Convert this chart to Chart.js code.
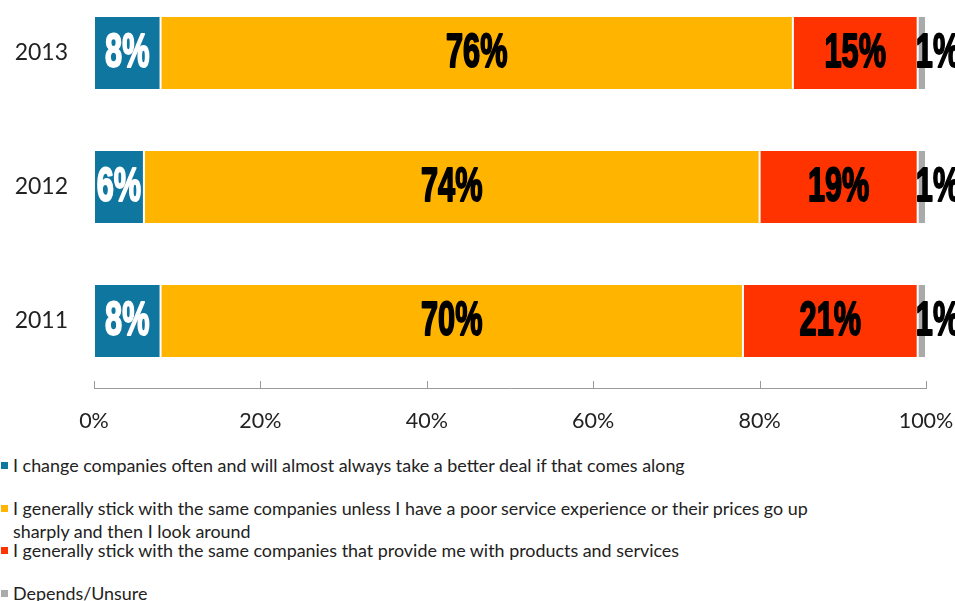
<!DOCTYPE html>
<html>
<head>
<meta charset="utf-8">
<script src="https://cdn.jsdelivr.net/npm/chart.js@4/dist/chart.umd.min.js"></script>
<style>
  body { margin: 0; background: #fff; }
  #wrap { position: relative; width: 955px; height: 601px; overflow: hidden; }
  #holder { position: absolute; left: 0; top: -14px; width: 955px; height: 460px; }
  #legend { position: absolute; left: 0; top: 0; width: 955px; }
  .item { position: absolute; left: 0; font: 17.9px Lato, "Open Sans", sans-serif; color: #222; line-height: 23px; white-space: nowrap; }
  .item span.box { position: absolute; left: 1px; top: 8px; width: 7px; height: 7px; }
  .item div { margin-left: 13px; }
</style>
</head>
<body>
<div id="wrap">
  <div id="holder"><canvas id="loyalty-chart" width="955" height="460"></canvas></div>
  <div id="legend"></div>
</div>
<script>
var years = ['2013', '2012', '2011'];
var changeOften = [8, 6, 8];
var stickUnlessPoor = [76, 74, 70];
var stickAlways = [15, 19, 21];
var unsure = [1, 1, 1];
var seriesNames = [
  ['I change companies often and will almost always take a better deal if that comes along'],
  ['I generally stick with the same companies unless I have a poor service experience or their prices go up', 'sharply and then I look around'],
  ['I generally stick with the same companies that provide me with products and services'],
  ['Depends/Unsure']
];
var xTicks = [0, 20, 40, 60, 80, 100];
var colors = ['#0f76a0', '#ffb400', '#ff3300', '#aaaaaa'];
var labelColors = ['#ffffff', '#000000', '#000000', '#000000'];

// value labels in a narrow heavy face, centred on each segment
var barLabels = {
  id: 'barLabels',
  afterDatasetsDraw: function(chart) {
    var ctx = chart.ctx;
    chart.data.datasets.forEach(function(ds, di) {
      var meta = chart.getDatasetMeta(di);
      meta.data.forEach(function(bar, i) {
        var cx = (bar.x + bar.base) / 2;
        if (di === 3) cx = bar.x + 12;
        ctx.save();
        ctx.translate(cx, bar.y + 1);
        ctx.scale(0.64, 1);
        ctx.font = 'bold 48px "Liberation Sans", Arial, sans-serif';
        ctx.textAlign = 'center';
        ctx.textBaseline = 'middle';
        ctx.fillStyle = labelColors[di];
        ctx.strokeStyle = labelColors[di];
        ctx.lineWidth = 2;
        ctx.lineJoin = 'round';
        ctx.strokeText(ds.data[i] + '%', 0, 0);
        ctx.fillText(ds.data[i] + '%', 0, 0);
        ctx.restore();
      });
    });
  }
};

// small tick marks standing up from the bottom axis line
var upTicks = {
  id: 'upTicks',
  afterDraw: function(chart) {
    var ctx = chart.ctx;
    var x = chart.scales.x;
    ctx.save();
    ctx.strokeStyle = '#9a9a9a';
    ctx.lineWidth = 1;
    xTicks.forEach(function(v) {
      var px = Math.round(x.getPixelForValue(v)) + 0.5;
      ctx.beginPath();
      ctx.moveTo(px, x.top);
      ctx.lineTo(px, x.top - 7);
      ctx.stroke();
    });
    ctx.restore();
  }
};

var datasets = [changeOften, stickUnlessPoor, stickAlways, unsure].map(function(d, i) {
  return {
    label: seriesNames[i],
    data: d,
    backgroundColor: colors[i],
    borderColor: '#ffffff',
    borderWidth: 1,
    borderSkipped: false
  };
});

var chart = new Chart(document.getElementById('loyalty-chart').getContext('2d'), {
  type: 'bar',
  data: { labels: years, datasets: datasets },
  options: {
    indexAxis: 'y',
    responsive: false,
    animation: false,
    layout: { padding: { left: 0, right: 29, top: 0, bottom: 0 } },
    plugins: { legend: { display: false }, tooltip: { enabled: false } },
    scales: {
      x: {
        stacked: true,
        min: 0,
        max: 100,
        afterBuildTicks: function(scale) {
          scale.ticks = xTicks.map(function(v) { return { value: v }; });
        },
        afterFit: function(scale) {
          scale.height = 58;
          scale.paddingLeft = 0;
          scale.paddingRight = 0;
        },
        grid: { display: false, drawTicks: false },
        border: { display: true, color: '#9a9a9a', width: 1 },
        ticks: {
          padding: 20,
          color: '#222',
          font: { family: 'Lato, "Open Sans", sans-serif', size: 21.5 },
          maxRotation: 0,
          callback: function(v) { return v + '%'; }
        }
      },
      y: {
        stacked: true,
        afterFit: function(scale) {
          scale.width = 94;
          scale.paddingTop = 0;
          scale.paddingBottom = 0;
        },
        grid: { display: false, drawTicks: false },
        border: { display: false },
        ticks: {
          padding: 26,
          color: '#222',
          font: { family: 'Lato, "Open Sans", sans-serif', size: 23 }
        }
      }
    },
    datasets: { bar: { categoryPercentage: 1, barPercentage: 0.552 } }
  },
  plugins: [barLabels, upTicks]
});

// legend below the plot, one entry per dataset
var legendTops = [454, 497, 539, 582];
var legend = document.getElementById('legend');
chart.data.datasets.forEach(function(ds, i) {
  var item = document.createElement('div');
  item.className = 'item';
  item.style.top = legendTops[i] + 'px';
  var box = document.createElement('span');
  box.className = 'box';
  box.style.background = ds.backgroundColor;
  item.appendChild(box);
  ds.label.forEach(function(line) {
    var t = document.createElement('div');
    t.textContent = line;
    item.appendChild(t);
  });
  legend.appendChild(item);
});
</script>
</body>
</html>
